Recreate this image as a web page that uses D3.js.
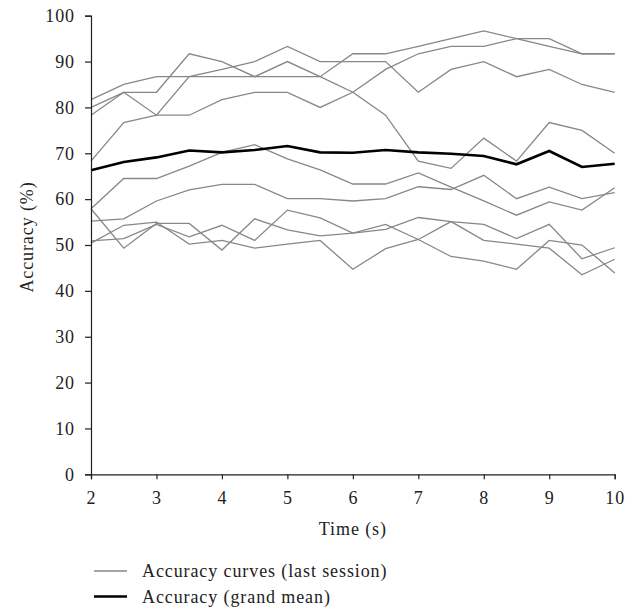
<!DOCTYPE html>
<html>
<head>
<meta charset="utf-8">
<script src="https://cdn.jsdelivr.net/npm/d3@7"></script>
<style>
  body { margin: 0; background: #fff; }
  svg { display: block; }
  text { font-family: "Liberation Serif", "DejaVu Serif", serif; fill: #222; letter-spacing: 0.9px; }
</style>
</head>
<body>
<svg id="chart" width="642" height="609"></svg>
<script>
const times = [2, 2.5, 3, 3.5, 4, 4.5, 5, 5.5, 6, 6.5, 7, 7.5, 8, 8.5, 9, 9.5, 10];
const xTicks = [2, 3, 4, 5, 6, 7, 8, 9, 10];
const yTicks = [0, 10, 20, 30, 40, 50, 60, 70, 80, 90, 100];

const curveA = [81.7, 85, 86.7, 86.7, 86.7, 86.7, 86.7, 86.7, 91.7, 91.7, 93.3, 95, 96.7, 95, 93.3, 91.7, 91.7];
const curveB = [68.3, 76.7, 78.3, 78.3, 81.7, 83.3, 83.3, 80, 83.3, 88.3, 91.7, 93.3, 93.3, 95, 95, 91.7, 91.7];
const curveC = [78.3, 83.3, 78.3, 86.7, 88.3, 90, 93.3, 90, 90, 90, 83.3, 88.3, 90, 86.7, 88.3, 85, 83.3];
const curveD = [80, 83.3, 83.3, 91.7, 90, 86.7, 90, 86.7, 83.3, 78.3, 68.3, 66.7, 73.3, 68.3, 76.7, 75, 70];
const curveE = [57.9, 64.5, 64.5, 67.2, 70.2, 71.9, 68.8, 66.4, 63.3, 63.3, 65.7, 62.6, 59.6, 56.5, 59.4, 57.6, 62.5];
const curveF = [55.2, 55.7, 59.6, 62.0, 63.2, 63.2, 60.1, 60.1, 59.6, 60.1, 62.7, 62.1, 65.2, 60.1, 62.6, 60.1, 61.4];
const curveG = [57.9, 49.3, 54.7, 54.7, 48.9, 55.7, 53.3, 52.0, 52.6, 53.4, 56.0, 55.1, 54.5, 51.4, 54.5, 47.0, 49.4];
const curveH = [50.9, 51.4, 54.5, 51.8, 54.3, 51.0, 57.6, 55.9, 52.6, 54.5, 51.2, 47.5, 46.5, 44.7, 51.0, 50.0, 43.9];
const curveI = [50.4, 54.3, 55.0, 50.2, 51.0, 49.3, 50.2, 51.0, 44.7, 49.2, 51.2, 55.1, 51.0, 50.2, 49.3, 43.5, 46.9];
const grandMean = [66.3, 68.1, 69.1, 70.6, 70.2, 70.7, 71.6, 70.2, 70.1, 70.7, 70.2, 69.9, 69.4, 67.6, 70.5, 67.0, 67.7];

const sessionCurves = [curveA, curveB, curveC, curveD, curveE, curveF, curveG, curveH, curveI];
const legendLabels = ["Accuracy curves (last session)", "Accuracy (grand mean)"];

const svg = d3.select("#chart");
const margin = { left: 91, right: 27.3, top: 15.7, bottom: 134.7 };
const W = 642, H = 609;
const x = d3.scaleLinear().domain([2, 10]).range([margin.left, W - margin.right]);
const y = d3.scaleLinear().domain([0, 100]).range([H - margin.bottom, margin.top]);

const line = d3.line().x((d, i) => x(times[i])).y(d => y(d));

const plot = svg.append("g");
plot.selectAll("path.session").data(sessionCurves).join("path")
  .attr("class", "session")
  .attr("d", line)
  .attr("fill", "none")
  .attr("stroke", "#878787")
  .attr("stroke-width", 1.3);

plot.append("path")
  .attr("d", line(grandMean))
  .attr("fill", "none")
  .attr("stroke", "#000")
  .attr("stroke-width", 2.6);

const xAxis = svg.append("g")
  .attr("transform", `translate(0,${H - margin.bottom})`)
  .call(d3.axisBottom(x).tickValues(xTicks).tickFormat(d3.format("d")).tickSize(5).tickPadding(12));
const yAxis = svg.append("g")
  .attr("transform", `translate(${margin.left},0)`)
  .call(d3.axisLeft(y).tickValues(yTicks).tickSize(6).tickPadding(10));

[xAxis, yAxis].forEach(g => {
  g.select(".domain").attr("stroke", "#222").attr("stroke-width", 1.2);
  g.selectAll(".tick line").attr("stroke", "#222").attr("stroke-width", 1.2);
  g.selectAll(".tick text").style("font-size", "18px").attr("fill", "#222")
    .style("font-family", '"Liberation Serif", serif');
});

svg.append("text")
  .attr("x", (x(2) + x(10)) / 2)
  .attr("y", 535)
  .attr("text-anchor", "middle")
  .style("font-size", "18px")
  .text("Time (s)");

svg.append("text")
  .attr("transform", `translate(33,237) rotate(-90)`)
  .attr("text-anchor", "middle")
  .style("font-size", "18px")
  .text("Accuracy (%)");

const legend = svg.append("g");
const legendStyles = [{ stroke: "#878787", w: 1.3 }, { stroke: "#000", w: 2.6 }];
legendLabels.forEach((lab, i) => {
  const cy = 571 + i * 25.5;
  legend.append("line")
    .attr("x1", 94).attr("x2", 127).attr("y1", cy).attr("y2", cy)
    .attr("stroke", legendStyles[i].stroke).attr("stroke-width", legendStyles[i].w);
  legend.append("text")
    .attr("x", 142).attr("y", cy + 6)
    .style("font-size", "18px")
    .text(lab);
});
</script>
</body>
</html>
